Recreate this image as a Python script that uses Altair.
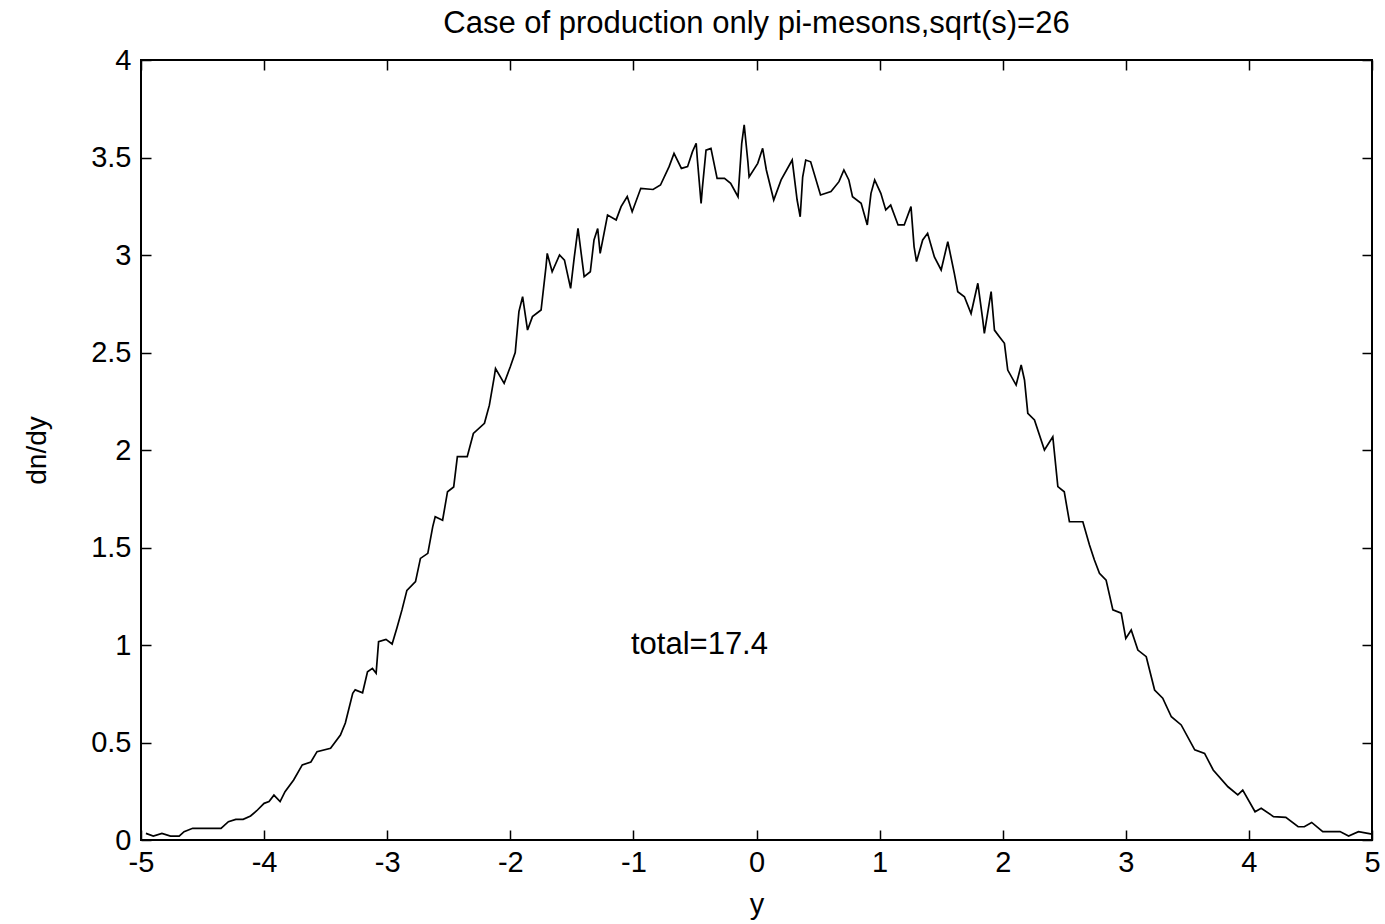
import altair as alt
import pandas as pd

# Rapidity values
rapidity = [
    -4.96, -4.90, -4.83, -4.76, -4.69, -4.65, -4.58, -4.35, -4.29, -4.23,
    -4.17, -4.11, -4.06, -4.00, -3.96, -3.92, -3.87, -3.83, -3.76, -3.69,
    -3.62, -3.57, -3.46, -3.38, -3.34, -3.28, -3.26, -3.20, -3.16, -3.12,
    -3.09, -3.07, -3.01, -2.96, -2.92, -2.88, -2.84, -2.77, -2.73, -2.67,
    -2.63, -2.61, -2.55, -2.51, -2.46, -2.43, -2.35, -2.30, -2.21, -2.17,
    -2.13, -2.12, -2.05, -2.00, -1.96, -1.93, -1.90, -1.86, -1.82, -1.75,
    -1.71, -1.70, -1.66, -1.60, -1.56, -1.51, -1.48, -1.45, -1.40, -1.35,
    -1.32, -1.29, -1.27, -1.21, -1.14, -1.10, -1.05, -1.01, -0.94, -0.84,
    -0.78, -0.71, -0.67, -0.61, -0.56, -0.52, -0.49, -0.48, -0.45, -0.44,
    -0.41, -0.37, -0.32, -0.26, -0.21, -0.15, -0.12, -0.10, -0.07, -0.06,
    0.01, 0.05, 0.08, 0.14, 0.20, 0.29, 0.33, 0.355, 0.375, 0.40,
    0.44, 0.52, 0.605, 0.67, 0.71, 0.75, 0.78, 0.85, 0.90, 0.93,
    0.96, 1.01, 1.05, 1.09, 1.15, 1.20, 1.255, 1.28, 1.30, 1.35,
    1.39, 1.445, 1.50, 1.554, 1.607, 1.635, 1.689, 1.743, 1.798, 1.838,
    1.851, 1.906, 1.933, 1.973, 2.014, 2.041, 2.109, 2.15, 2.177, 2.204,
    2.258, 2.339, 2.407, 2.448, 2.50, 2.542, 2.651, 2.705, 2.745, 2.786,
    2.84, 2.895, 2.963, 3.0, 3.044, 3.098, 3.166, 3.234, 3.30, 3.37,
    3.45, 3.56, 3.64, 3.71, 3.83, 3.91, 3.95, 4.05, 4.10, 4.20,
    4.30, 4.40, 4.45, 4.51, 4.60, 4.74, 4.81, 4.89, 5.0,
]

# dn/dy values
dndy = [
    0.034, 0.020, 0.034, 0.020, 0.020, 0.043, 0.060, 0.060, 0.094, 0.106,
    0.106, 0.123, 0.150, 0.188, 0.197, 0.230, 0.197, 0.248, 0.308, 0.385,
    0.400, 0.453, 0.470, 0.538, 0.600, 0.752, 0.770, 0.755, 0.863, 0.880,
    0.855, 1.017, 1.029, 1.005, 1.090, 1.180, 1.280, 1.325, 1.444, 1.470,
    1.607, 1.658, 1.640, 1.786, 1.810, 1.966, 1.966, 2.085, 2.137, 2.230,
    2.376, 2.418, 2.342, 2.427, 2.500, 2.710, 2.786, 2.615, 2.684, 2.718,
    2.940, 3.008, 2.914, 3.000, 2.974, 2.829, 2.990, 3.136, 2.889, 2.914,
    3.077, 3.136, 3.008, 3.205, 3.180, 3.248, 3.300, 3.222, 3.342, 3.336,
    3.359, 3.453, 3.521, 3.444, 3.453, 3.530, 3.573, 3.487, 3.265, 3.342,
    3.538, 3.547, 3.393, 3.393, 3.368, 3.299, 3.573, 3.667, 3.478, 3.400,
    3.470, 3.547, 3.436, 3.282, 3.385, 3.487, 3.282, 3.196, 3.400, 3.487,
    3.478, 3.308, 3.325, 3.376, 3.436, 3.385, 3.299, 3.265, 3.154, 3.316,
    3.385, 3.316, 3.231, 3.256, 3.154, 3.154, 3.248, 3.043, 2.966, 3.077,
    3.111, 2.990, 2.923, 3.068, 2.906, 2.812, 2.786, 2.700, 2.855, 2.667,
    2.598, 2.812, 2.615, 2.581, 2.547, 2.410, 2.333, 2.436, 2.359, 2.188,
    2.154, 2.000, 2.068, 1.812, 1.786, 1.632, 1.632, 1.513, 1.436, 1.368,
    1.333, 1.180, 1.163, 1.034, 1.077, 0.974, 0.940, 0.769, 0.727, 0.632,
    0.590, 0.462, 0.444, 0.359, 0.273, 0.231, 0.256, 0.145, 0.163, 0.120,
    0.116, 0.068, 0.068, 0.090, 0.043, 0.043, 0.020, 0.043, 0.030,
]

x_ticks = [-5, -4, -3, -2, -1, 0, 1, 2, 3, 4, 5]
y_ticks = [0, 0.5, 1, 1.5, 2, 2.5, 3, 3.5, 4]

title_text = "Case of production only pi-mesons,sqrt(s)=26"
annotation_text = ["total=17.4"]
annotation_x = [-1.02]
annotation_y = [1.0]

FONT = "Liberation Sans"
W, H = 1231, 780

df = pd.DataFrame({"rapidity": rapidity, "dndy": dndy})
ann = pd.DataFrame({"ax": annotation_x, "ay": annotation_y, "label": annotation_text})

xs = alt.Scale(domain=[-5, 5], nice=False, zero=False)
ys = alt.Scale(domain=[0, 4], nice=False, zero=False)

main = alt.Chart(df).mark_line(color="black", strokeWidth=1.7).encode(
    x=alt.X("rapidity:Q", scale=xs, axis=alt.Axis(
        orient="bottom", values=x_ticks, ticks=False, domain=False, grid=False,
        labelExpr="'' + datum.value", labelFlush=False, labelOverlap=False,
        labelFont=FONT, labelFontSize=29, labelColor="black", labelPadding=8,
        title="y", titleFont=FONT, titleFontSize=29, titleFontWeight="normal",
        titleColor="black", titleX=W / 2, titleY=73, titleBaseline="alphabetic",
        titleAlign="center")),
    y=alt.Y("dndy:Q", scale=ys, axis=alt.Axis(
        orient="left", values=y_ticks, ticks=False, domain=False, grid=False,
        labelExpr="'' + datum.value", labelFlush=False, labelOverlap=False,
        labelFont=FONT, labelFontSize=29, labelColor="black", labelPadding=10,
        title="dn/dy", titleFont=FONT, titleFontSize=28, titleFontWeight="normal",
        titleColor="black", titleX=-96, titleY=H / 2, titleAngle=270,
        titleBaseline="alphabetic", titleAlign="center")),
)

tick_axis = dict(ticks=True, tickSize=10, tickWidth=1.5, tickColor="black",
                 labels=False, domain=False, grid=False, title=None, offset=-10)

ticks_bl = alt.Chart(df).mark_line(opacity=0).encode(
    x=alt.X("rapidity:Q", scale=xs, axis=alt.Axis(orient="bottom", values=x_ticks, **tick_axis)),
    y=alt.Y("dndy:Q", scale=ys, axis=alt.Axis(orient="left", values=y_ticks, **tick_axis)),
)
ticks_tr = alt.Chart(df).mark_line(opacity=0).encode(
    x=alt.X("rapidity:Q", scale=xs, axis=alt.Axis(orient="top", values=x_ticks, **tick_axis)),
    y=alt.Y("dndy:Q", scale=ys, axis=alt.Axis(orient="right", values=y_ticks, **tick_axis)),
)

text = alt.Chart(ann).mark_text(
    align="left", baseline="middle", font=FONT, fontSize=31, color="black"
).encode(
    x=alt.X("ax:Q", scale=xs, axis=None),
    y=alt.Y("ay:Q", scale=ys, axis=None),
    text="label:N",
)

chart = alt.layer(main, ticks_bl, ticks_tr, text).resolve_axis(
    x="independent", y="independent"
).properties(
    width=W, height=H,
    background="white",
    title=alt.TitleParams(title_text, font=FONT, fontSize=31, fontWeight="normal",
                          color="black", anchor="middle", offset=6),
    padding={"left": 141, "top": 60, "right": 13, "bottom": 84},
    autosize=alt.AutoSizeParams(type="none"),
).configure_view(
    stroke="black", strokeWidth=2
)

chart.save("out.html", embed_options={"renderer": "svg", "actions": False})
